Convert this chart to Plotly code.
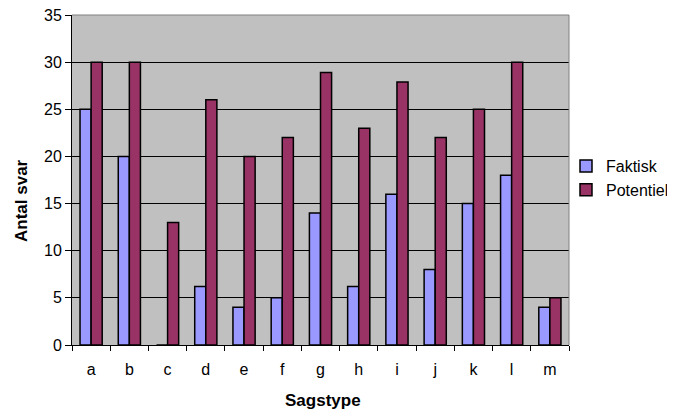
import plotly.graph_objects as go

categories = ["a", "b", "c", "d", "e", "f", "g", "h", "i", "j", "k", "l", "m"]
faktisk = [25, 20, 0, 6.2, 4, 5, 14, 6.2, 16, 8, 15, 18, 4]
potentiel = [30, 30, 13, 26, 20, 22, 28.9, 23, 27.9, 22, 25, 30, 5]

fig = go.Figure()
fig.add_bar(x=categories, y=faktisk, name="Faktisk",
            marker=dict(color="#9999FF", line=dict(color="black", width=1.5)))
fig.add_bar(x=categories, y=potentiel, name="Potentiel",
            marker=dict(color="#993366", line=dict(color="black", width=1.5)))

font = "Liberation Sans, Arial, sans-serif"
OFF = 8  # default page body margin
W, H = 675 - OFF, 412 - OFF
X0, X1, Y0, Y1 = 72 - OFF, 569 - OFF, 15 - OFF, 345 - OFF  # plot area in figure px
pw, ph = X1 - X0, Y1 - Y0


def px(x):
    return (x - OFF - X0) / pw


def py(y):
    return (Y1 - (y - OFF)) / ph


fig.update_layout(
    width=W, height=H,
    margin=dict(l=X0, r=W - X1, t=Y0, b=H - Y1, autoexpand=False),
    paper_bgcolor="white", plot_bgcolor="#C0C0C0",
    barmode="group", bargap=0.42, bargroupgap=0,
    font=dict(family=font, size=16, color="black"),
    legend=dict(x=px(566), y=py(178), xanchor="left", yanchor="middle",
                font=dict(size=16), tracegroupgap=0, bgcolor="rgba(0,0,0,0)",
                itemwidth=30),
    xaxis=dict(tickson="boundaries", ticks="outside", ticklen=5, tickcolor="black",
               showline=True, linecolor="black", linewidth=1, automargin=False,
               ticklabelstandoff=10, tickfont=dict(size=16)),
    yaxis=dict(range=[0, 35], dtick=5, ticks="outside", ticklen=6, tickcolor="black",
               showline=True, linecolor="black", linewidth=1, automargin=False,
               gridcolor="black", gridwidth=1, zeroline=False,
               ticklabeloverflow="allow", tickfont=dict(size=16)),
    annotations=[
        dict(text="<b>Sagstype</b>", x=px(323), y=py(400),
             xref="paper", yref="paper", xanchor="center", yanchor="middle",
             showarrow=False, font=dict(size=17)),
        dict(text="<b>Antal svar</b>", x=px(21), y=py(201),
             xref="paper", yref="paper", xanchor="center", yanchor="middle",
             textangle=-90, showarrow=False, font=dict(size=17)),
    ],
    shapes=[
        dict(type="line", xref="paper", yref="paper", x0=0, x1=1, y0=1, y1=1,
             line=dict(color="#808080", width=1), layer="above"),
        dict(type="line", xref="paper", yref="paper", x0=1, x1=1, y0=0, y1=1,
             line=dict(color="#808080", width=1), layer="above"),
    ],
)
fig.write_html("out.html")
